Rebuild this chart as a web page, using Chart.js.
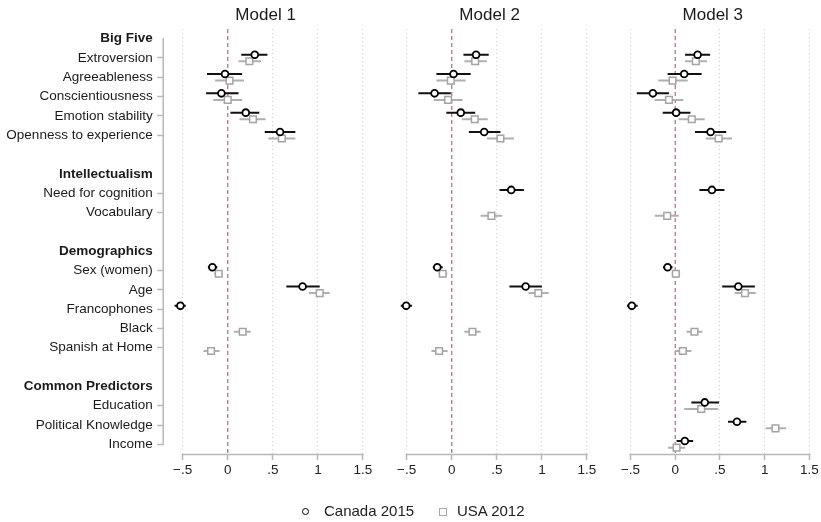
<!DOCTYPE html>
<html><head><meta charset="utf-8">
<script src="https://cdn.jsdelivr.net/npm/chart.js@4.4.0/dist/chart.umd.min.js"></script>
<style>
html,body{margin:0;padding:0;background:#fff;overflow:hidden;}
#wrap{position:relative;width:821px;height:522px;}
canvas{position:absolute;left:0;top:0;}
.lgt{position:absolute;font-family:'Liberation Sans',Arial,sans-serif;font-size:15px;color:#222;line-height:18px;top:502px;white-space:nowrap;}
.mk{position:absolute;box-sizing:border-box;}
</style></head><body>
<div id="wrap">
<canvas id="c1" width="821" height="522"></canvas>
<canvas id="c2" width="821" height="522"></canvas>
<canvas id="c3" width="821" height="522"></canvas>
<span class="mk" style="left:302px;top:508px;width:7px;height:7px;border:1.8px solid #000;border-radius:50%;"></span>
<span class="lgt" style="left:324px;">Canada 2015</span>
<span class="mk" style="left:439px;top:507.5px;width:8px;height:8px;border:1.5px solid #a8a8a8;"></span>
<span class="lgt" style="left:457px;">USA 2012</span>
</div>
<script>
// ---------- data ----------
const rowLabels = ['Big Five','Extroversion','Agreeableness','Conscientiousness','Emotion stability','Openness to experience','',
  'Intellectualism','Need for cognition','Vocabulary','',
  'Demographics','Sex (women)','Age','Francophones','Black','Spanish at Home','',
  'Common Predictors','Education','Political Knowledge','Income'];
const headerLabels = ['Big Five','Intellectualism','Demographics','Common Predictors'];
const variables = ['Extroversion','Agreeableness','Conscientiousness','Emotion stability','Openness to experience',
  'Need for cognition','Vocabulary','Sex (women)','Age','Francophones','Black','Spanish at Home',
  'Education','Political Knowledge','Income'];
const xTickValues = [-0.5, 0, 0.5, 1, 1.5];
const xTickLabels = ['\u2212.5', '0', '.5', '1', '1.5'];
const modelTitles = ['Model 1', 'Model 2', 'Model 3'];
const seriesNames = ['Canada 2015', 'USA 2012'];

// Model 1
const m1CanEst = [0.30, -0.03, -0.07, 0.20, 0.58, null, null, -0.17, 0.83, -0.525, null, null, null, null, null];
const m1CanLo  = [0.15, -0.23, -0.24, 0.03, 0.41, null, null, -0.22, 0.65, -0.59, null, null, null, null, null];
const m1CanHi  = [0.44, 0.16, 0.12, 0.35, 0.75, null, null, -0.115, 1.02, -0.465, null, null, null, null, null];
const m1UsaEst = [0.24, 0.02, 0.00, 0.28, 0.60, null, null, -0.10, 1.02, null, 0.166, -0.185, null, null, null];
const m1UsaLo  = [0.12, -0.14, -0.16, 0.13, 0.45, null, null, -0.15, 0.90, null, 0.07, -0.27, null, null, null];
const m1UsaHi  = [0.37, 0.18, 0.16, 0.42, 0.75, null, null, -0.055, 1.13, null, 0.255, -0.09, null, null, null];
// Model 2
const m2CanEst = [0.27, 0.02, -0.19, 0.10, 0.36, 0.66, null, -0.16, 0.82, -0.505, null, null, null, null, null];
const m2CanLo  = [0.13, -0.17, -0.37, -0.06, 0.19, 0.53, null, -0.21, 0.64, -0.565, null, null, null, null, null];
const m2CanHi  = [0.41, 0.21, -0.01, 0.26, 0.54, 0.80, null, -0.10, 1.00, -0.44, null, null, null, null, null];
const m2UsaEst = [0.26, -0.01, -0.04, 0.255, 0.54, null, 0.44, -0.10, 0.96, null, 0.23, -0.14, null, null, null];
const m2UsaLo  = [0.14, -0.17, -0.20, 0.115, 0.39, null, 0.32, -0.145, 0.85, null, 0.14, -0.225, null, null, null];
const m2UsaHi  = [0.39, 0.155, 0.12, 0.40, 0.69, null, 0.56, -0.05, 1.075, null, 0.32, -0.045, null, null, null];
// Model 3
const m3CanEst = [0.25, 0.10, -0.25, 0.01, 0.395, 0.41, null, -0.085, 0.705, -0.485, null, null, 0.33, 0.69, 0.107];
const m3CanLo  = [0.11, -0.085, -0.43, -0.14, 0.22, 0.27, null, -0.137, 0.525, -0.54, null, null, 0.18, 0.59, 0.015];
const m3CanHi  = [0.39, 0.295, -0.07, 0.17, 0.57, 0.55, null, -0.03, 0.89, -0.42, null, null, 0.49, 0.795, 0.20];
const m3UsaEst = [0.23, -0.03, -0.07, 0.185, 0.485, null, -0.09, 0.007, 0.78, null, 0.215, 0.085, 0.29, 1.12, 0.015];
const m3UsaLo  = [0.11, -0.19, -0.23, 0.04, 0.34, null, -0.23, -0.04, 0.665, null, 0.125, -0.005, 0.10, 1.01, -0.08];
const m3UsaHi  = [0.355, 0.14, 0.09, 0.33, 0.635, null, 0.04, 0.055, 0.90, null, 0.305, 0.18, 0.48, 1.24, 0.11];

// ---------- styling / layout ----------
const FONT = "'Liberation Sans', Arial, sans-serif";
const X_MIN = -0.71, X_MAX = 1.55;
const SERIES_SHIFT = 0.17;           // vertical shift of the two series within a row
const panelPadding = [
  {left: 0, right: 453.5},
  {left: 387.7, right: 229.5},
  {left: 611.7, right: 5.5}
];
const Y_AXIS_WIDTH = 163.7;

const models = [
  {can: [m1CanEst, m1CanLo, m1CanHi], usa: [m1UsaEst, m1UsaLo, m1UsaHi]},
  {can: [m2CanEst, m2CanLo, m2CanHi], usa: [m2UsaEst, m2UsaLo, m2UsaHi]},
  {can: [m3CanEst, m3CanLo, m3CanHi], usa: [m3UsaEst, m3UsaLo, m3UsaHi]}
];

function pointData(est, shift) {
  const d = [];
  variables.forEach((v, i) => {
    if (est[i] === null) return;
    d.push({x: est[i], y: rowLabels.indexOf(v) + shift});
  });
  return d;
}
function ciData(lo, hi, shift) {
  const d = [];
  variables.forEach((v, i) => {
    if (lo[i] === null) return;
    const r = rowLabels.indexOf(v) + shift;
    d.push({x: lo[i], y: r}, {x: hi[i], y: r}, {x: null, y: null});
  });
  return d;
}

const axisLines = {
  id: 'axisLines',
  beforeDatasetsDraw(chart, args, opts) {
    const {ctx, chartArea, scales} = chart;
    const x = scales.x, y = scales.y;
    ctx.save();
    ctx.strokeStyle = '#b8b8b8';
    ctx.lineWidth = 1.5;
    ctx.beginPath();
    ctx.moveTo(x.getPixelForValue(xTickValues[0]) - 0.75, chartArea.bottom + 0.5);
    ctx.lineTo(x.getPixelForValue(xTickValues[xTickValues.length - 1]) + 0.75, chartArea.bottom + 0.5);
    if (opts.yAxis) {
      ctx.moveTo(chartArea.left - 0.5, y.getPixelForValue(0) - 0.75);
      ctx.lineTo(chartArea.left - 0.5, y.getPixelForValue(rowLabels.length - 1) + 0.75);
    }
    ctx.stroke();
    ctx.restore();
  }
};

function makeChart(id, k) {
  const m = models[k];
  const showY = k === 0;
  return new Chart(document.getElementById(id), {
    type: 'scatter',
    data: {
      datasets: [
        {label: seriesNames[0], data: pointData(m.can[0], -SERIES_SHIFT), pointStyle: 'circle',
         pointRadius: 3.4, pointBorderWidth: 1.8, borderColor: '#000', backgroundColor: '#fff', pointBackgroundColor: '#fff'},
        {type: 'line', label: seriesNames[0] + ' CI', data: ciData(m.can[1], m.can[2], -SERIES_SHIFT),
         borderColor: '#111', borderWidth: 2, pointRadius: 0, spanGaps: false, borderCapStyle: 'butt', fill: false},
        {label: seriesNames[1], data: pointData(m.usa[0], SERIES_SHIFT), pointStyle: 'rect',
         pointRadius: 4.7, pointBorderWidth: 1.5, borderColor: '#a4a4a4', backgroundColor: '#fff', pointBackgroundColor: '#fff'},
        {type: 'line', label: seriesNames[1] + ' CI', data: ciData(m.usa[1], m.usa[2], SERIES_SHIFT),
         borderColor: '#b0b0b0', borderWidth: 2, pointRadius: 0, spanGaps: false, borderCapStyle: 'butt', fill: false},
        {type: 'line', label: 'zero', data: [{x: 0, y: -0.5}, {x: 0, y: rowLabels.length - 0.5}],
         borderColor: '#d3649f', borderWidth: 1.3, borderDash: [4, 3], pointRadius: 0, fill: false}
      ]
    },
    options: {
      responsive: false,
      animation: false,
      devicePixelRatio: 1,
      events: [],
      layout: {padding: {left: panelPadding[k].left, right: panelPadding[k].right, top: 0, bottom: 38}},
      plugins: {
        legend: {display: false},
        tooltip: {enabled: false},
        title: {display: true, text: modelTitles[k], fullSize: false, color: '#1a1a1a',
                font: {family: FONT, size: 17, weight: 'normal'}, padding: {top: 5, bottom: 3.6}},
        axisLines: {yAxis: showY}
      },
      scales: {
        x: {
          type: 'linear', position: 'bottom', min: X_MIN, max: X_MAX,
          afterBuildTicks: (axis) => { axis.ticks = xTickValues.map(v => ({value: v})); },
          afterFit: (axis) => { axis.height = 30; },
          ticks: {callback: (v) => xTickLabels[xTickValues.indexOf(v)], color: '#222',
                  font: {family: FONT, size: 13.5}, padding: 2, maxRotation: 0, autoSkip: false},
          grid: {color: (c) => (c.tick && c.tick.value === 0) ? 'rgba(0,0,0,0)' : '#cfcfcf',
                 lineWidth: 1, drawTicks: true, tickLength: 6, tickColor: '#b8b8b8', tickWidth: 1.5},
          border: {display: false, dash: [1, 3]}
        },
        y: {
          type: 'linear', display: showY, reverse: true, min: -0.5, max: rowLabels.length - 0.5,
          afterBuildTicks: (axis) => {
            axis.ticks = rowLabels.map((l, i) => ({value: i})).filter(t => rowLabels[t.value] !== '');
          },
          afterFit: (axis) => { axis.width = showY ? Y_AXIS_WIDTH : 0; },
          ticks: {
            callback: (v) => rowLabels[v], autoSkip: false, padding: 4.5, color: '#1a1a1a',
            font: (c) => ({family: FONT, size: 13.5,
              weight: (c.tick && headerLabels.includes(rowLabels[c.tick.value])) ? 'bold' : 'normal'})
          },
          grid: {drawOnChartArea: false, drawTicks: true, tickLength: 6.5, tickWidth: 1.5,
                 tickColor: (c) => (c.tick && headerLabels.includes(rowLabels[c.tick.value])) ? 'rgba(0,0,0,0)' : '#b8b8b8'},
          border: {display: false}
        }
      }
    },
    plugins: [axisLines]
  });
}
makeChart('c1', 0);
makeChart('c2', 1);
makeChart('c3', 2);
</script>
</body></html>
